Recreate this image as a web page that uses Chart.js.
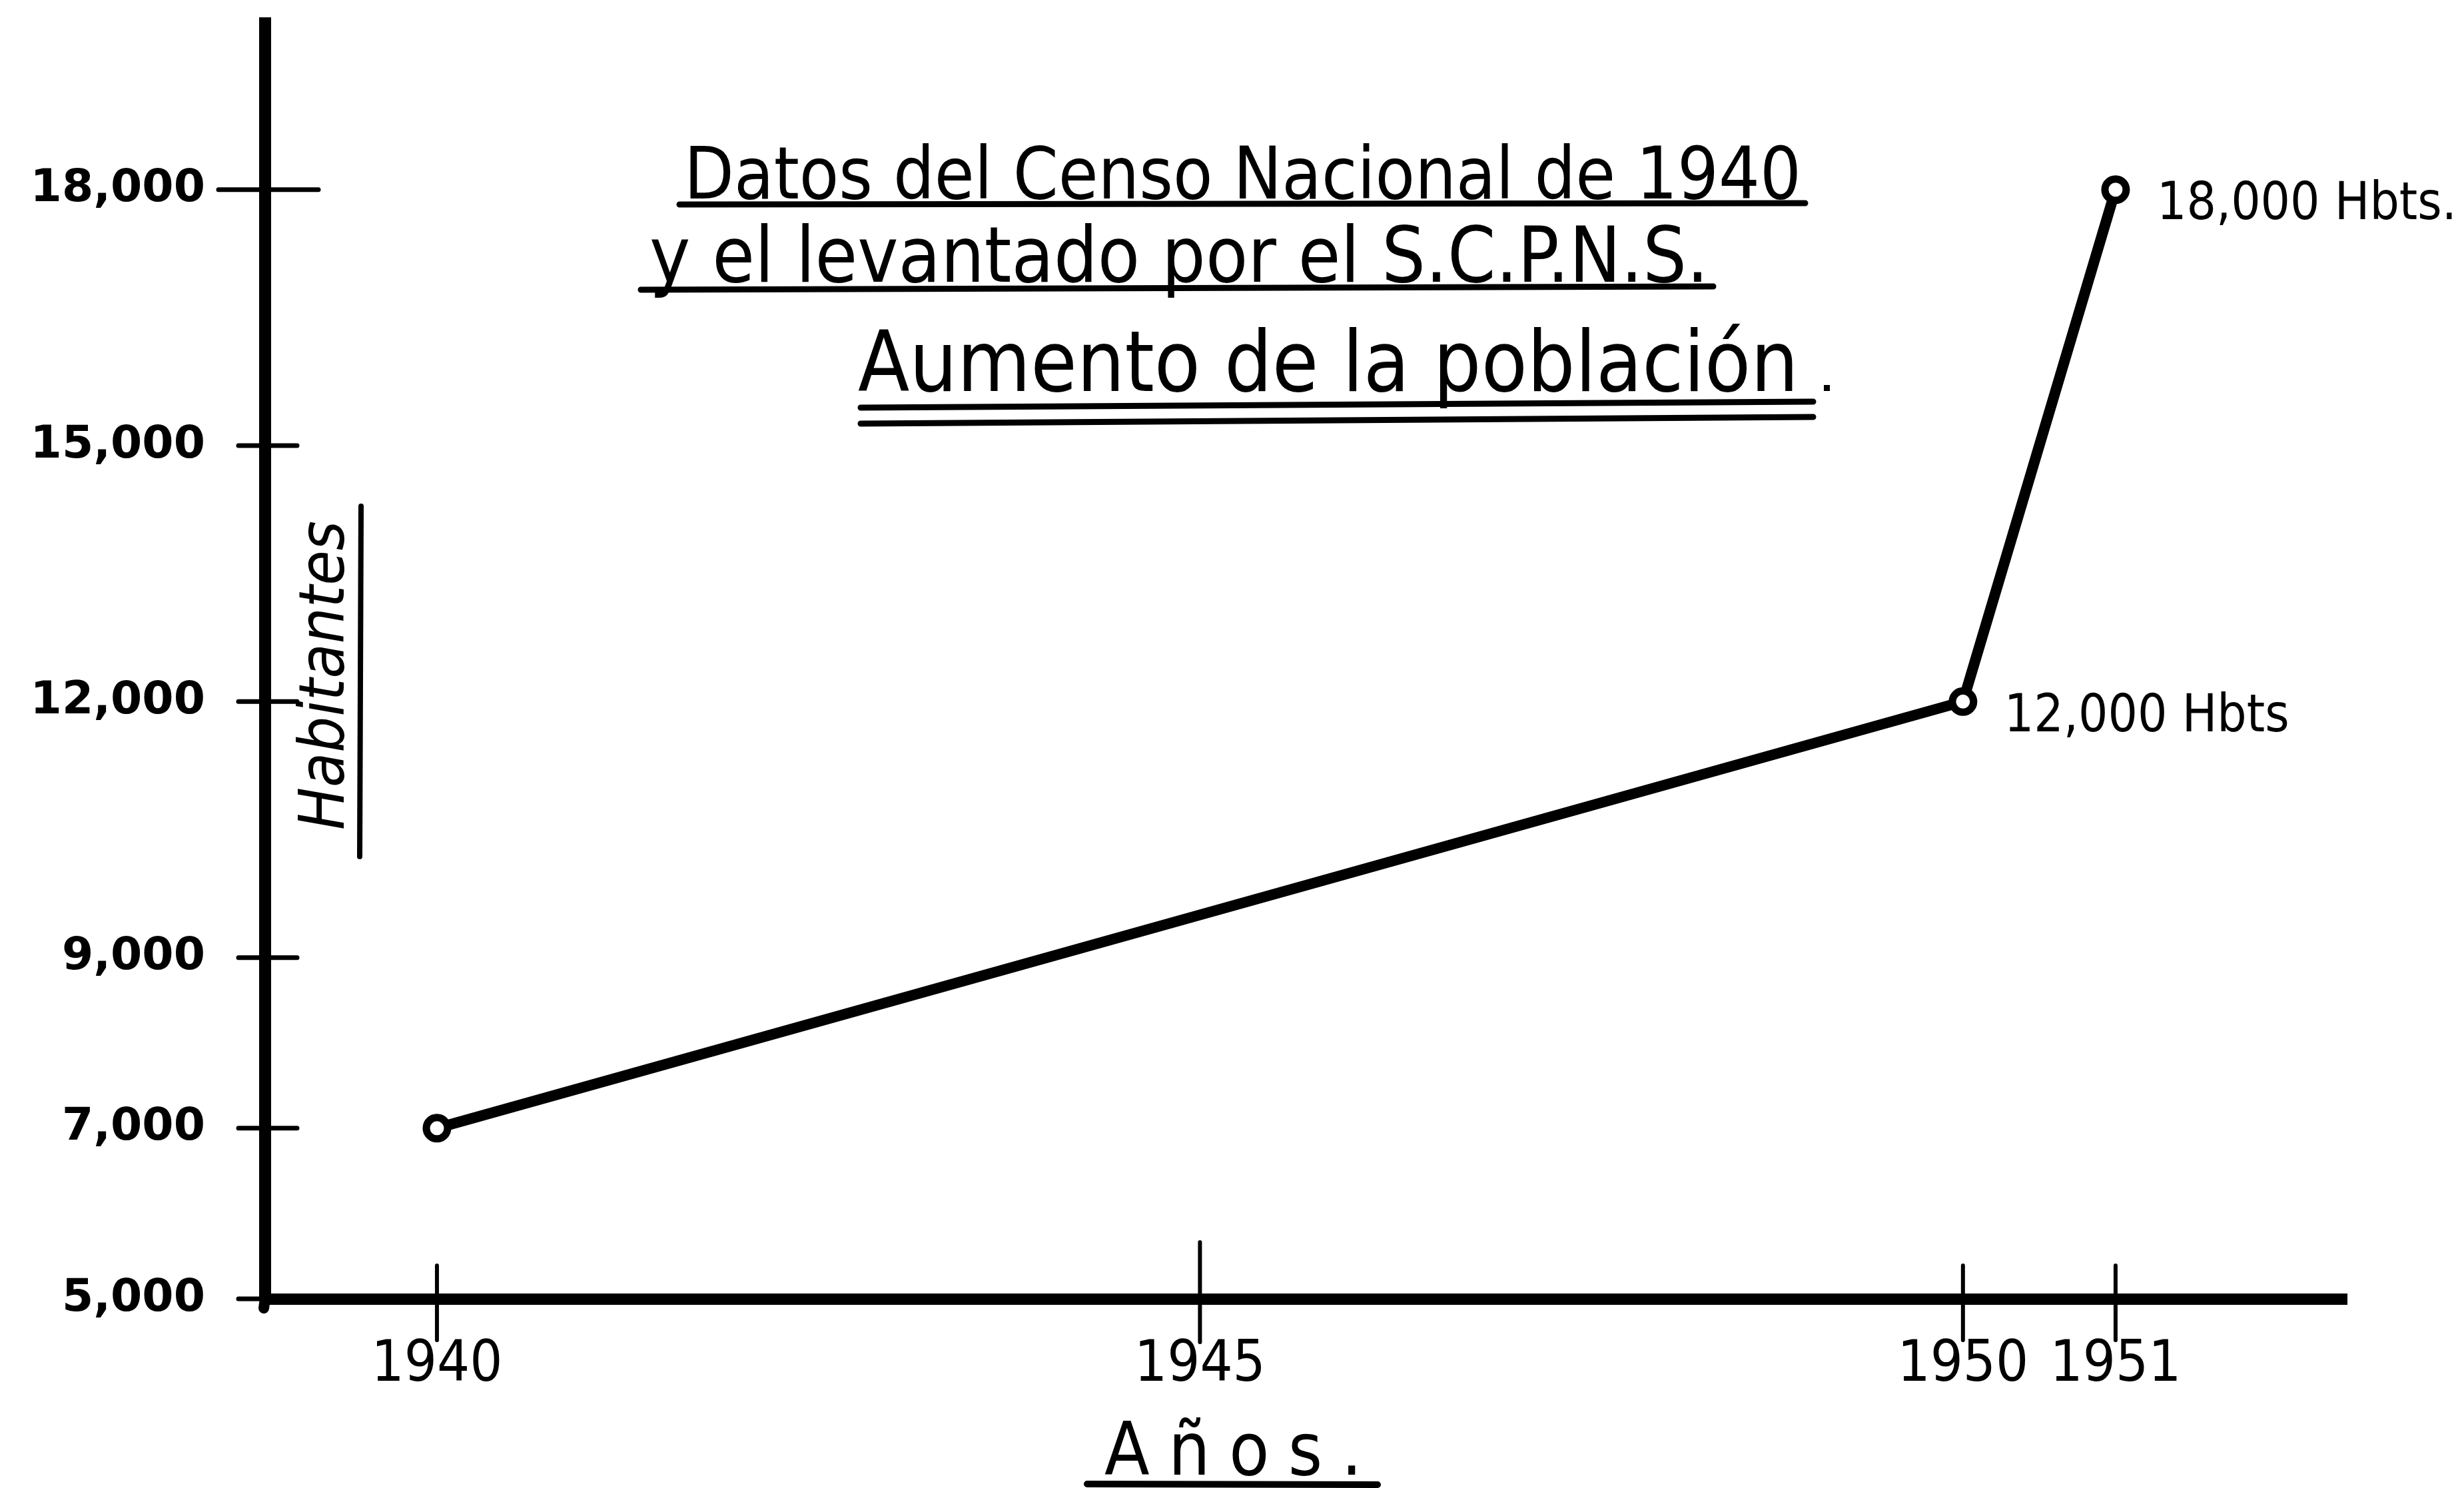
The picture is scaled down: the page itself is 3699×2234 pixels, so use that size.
<!DOCTYPE html>
<html lang="es">
<head>
<meta charset="utf-8">
<title>Aumento de la población</title>
<script src="https://cdn.jsdelivr.net/npm/chart.js@4.4.1/dist/chart.umd.min.js"></script>
<style>
  html, body { margin: 0; padding: 0; background: #fff; }
  canvas { display: block; }
</style>
</head>
<body>
<canvas id="poblacionChart" width="3699" height="2234"></canvas>
<script>
// values
const years = [1940, 1950, 1951];
const habitantes = [7000, 12000, 18000];
const pointNotes = ["", "12,000 Hbts", "18,000 Hbts."];
const yearTicks = [1940, 1945, 1950, 1951];
const habTicks = [5000, 7000, 9000, 12000, 15000, 18000];
const habTickLabels = ["5,000", "7,000", "9,000", "12,000", "15,000", "18,000"];
const titleLines = [
  "Datos del Censo Nacional de 1940",
  "y el levantado por el S.C.P.N.S.",
  "Aumento de la población"
];
const yTitle = "Habitantes";
const xTitle = "Años.";

const handFont = "'DejaVu Sans Condensed', 'DejaVu Sans', sans-serif";

// write text so it fills the width between left and right
function fitText(ctx, text, left, right, baseline, style) {
  ctx.font = `${style} 100px ${handFont}`;
  const size = 100 * (right - left) / ctx.measureText(text).width;
  ctx.font = `${style} ${size}px ${handFont}`;
  ctx.textAlign = "left";
  ctx.textBaseline = "alphabetic";
  ctx.fillText(text, left, baseline);
}

// fixed size, letters spread out to reach the width
function spreadText(ctx, text, left, right, baseline, size) {
  ctx.font = `normal ${size}px ${handFont}`;
  const gap = (right - left - ctx.measureText(text).width) / (text.length - 1);
  ctx.textAlign = "left";
  ctx.textBaseline = "alphabetic";
  let px = left;
  for (const ch of text) {
    ctx.fillText(ch, px, baseline);
    px += ctx.measureText(ch).width + gap;
  }
}

function stroke(ctx, x1, y1, x2, y2, w) {
  ctx.lineWidth = w;
  ctx.beginPath();
  ctx.moveTo(x1, y1);
  ctx.lineTo(x2, y2);
  ctx.stroke();
}

const handDrawn = {
  id: "handDrawn",
  afterDraw(chart) {
    const { ctx, chartArea, scales: { x, y } } = chart;
    ctx.save();
    ctx.strokeStyle = "#000";
    ctx.fillStyle = "#000";
    ctx.lineCap = "round";

    // tick marks crossing both axes
    y.ticks.forEach(t => {
      const py = y.getPixelForValue(t.value);
      const long = t.value === habTicks[habTicks.length - 1];
      stroke(ctx, chartArea.left - (long ? 70 : 40), py, chartArea.left + (long ? 80 : 48), py, 7);
    });
    x.ticks.forEach(t => {
      const px = x.getPixelForValue(t.value);
      const long = t.value === 1945;
      stroke(ctx, px, chartArea.bottom - (long ? 85 : 50), px, chartArea.bottom + (long ? 65 : 62), 6);
    });
    // axis runs a little below the x axis
    stroke(ctx, chartArea.left, chartArea.bottom, chartArea.left - 2, chartArea.bottom + 14, 16);

    // title, underlined
    fitText(ctx, titleLines[0], 1027, 2704, 298, "normal");
    stroke(ctx, 1020, 307, 2710, 305, 9);
    fitText(ctx, titleLines[1], 975, 2565, 423, "normal");
    stroke(ctx, 962, 435, 2572, 430, 9);
    fitText(ctx, titleLines[2], 1288, 2700, 587, "normal");
    ctx.fillRect(2738, 578, 9, 9);
    stroke(ctx, 1292, 612, 2722, 603, 9);
    stroke(ctx, 1292, 636, 2722, 626, 9);

    // y title, written upward inside the plot, with a line beside it
    ctx.save();
    ctx.translate(516, 1014);
    ctx.rotate(-Math.PI / 2);
    ctx.font = `italic 100px ${handFont}`;
    const ySize = 100 * 464 / ctx.measureText(yTitle).width;
    ctx.font = `italic ${ySize}px ${handFont}`;
    ctx.textAlign = "center";
    ctx.textBaseline = "alphabetic";
    ctx.fillText(yTitle, 0, 0);
    ctx.restore();
    stroke(ctx, 542, 760, 540, 1286, 8);

    // x title, underlined
    spreadText(ctx, xTitle, 1658, 2045, 2214, 110);
    stroke(ctx, 1632, 2228, 2068, 2229, 10);

    // notes beside the points
    const meta = chart.getDatasetMeta(0);
    ctx.textAlign = "left";
    ctx.textBaseline = "middle";
    pointNotes.forEach((note, i) => {
      if (!note) return;
      const pt = meta.data[i];
      ctx.font = `normal 100px ${handFont}`;
      const size = 100 * 450 / ctx.measureText("18,000 Hbts.").width;
      ctx.font = `normal ${size}px ${handFont}`;
      ctx.fillText(note, pt.x + 62, pt.y + 24);
    });

    ctx.restore();
  }
};

new Chart(document.getElementById("poblacionChart"), {
  type: "line",
  data: {
    datasets: [{
      label: yTitle,
      data: years.map((yr, i) => ({ x: yr, y: habitantes[i] })),
      borderColor: "#000",
      borderWidth: 16,
      tension: 0,
      pointRadius: 16,
      pointBorderWidth: 11,
      pointBorderColor: "#000",
      pointBackgroundColor: "#fff"
    }]
  },
  options: {
    responsive: false,
    animation: false,
    devicePixelRatio: 1,
    layout: { padding: { left: 0, top: 35, right: 176, bottom: 0 } },
    plugins: {
      legend: { display: false },
      tooltip: { enabled: false }
    },
    scales: {
      x: {
        type: "linear",
        min: 1938.874,
        max: 1952.515,
        afterBuildTicks: s => { s.ticks = yearTicks.map(v => ({ value: v })); },
        afterFit: s => { s.height = 284; s.paddingLeft = 0; s.paddingRight = 0; },
        grid: { display: false, drawTicks: false, tickLength: 0 },
        border: { display: true, color: "#000", width: 17 },
        ticks: {
          autoSkip: false,
          maxRotation: 0,
          padding: 58,
          color: "#000",
          font: { family: "'Liberation Sans Narrow', 'DejaVu Sans Condensed', sans-serif", size: 86, lineHeight: 1 },
          callback: v => String(v)
        }
      },
      y: {
        type: "linear",
        min: 5000,
        max: 19950,
        afterBuildTicks: s => { s.ticks = habTicks.map(v => ({ value: v })); },
        afterFit: s => { s.width = 398; s.paddingTop = 0; s.paddingBottom = 0; },
        grid: { display: false, drawTicks: false, tickLength: 0 },
        border: { display: true, color: "#000", width: 18 },
        ticks: {
          autoSkip: false,
          padding: 90,
          color: "#000",
          font: { family: "'DejaVu Sans', sans-serif", size: 68, weight: "bold", lineHeight: 1 },
          callback: v => habTickLabels[habTicks.indexOf(v)]
        }
      }
    }
  },
  plugins: [handDrawn]
});
</script>
</body>
</html>
